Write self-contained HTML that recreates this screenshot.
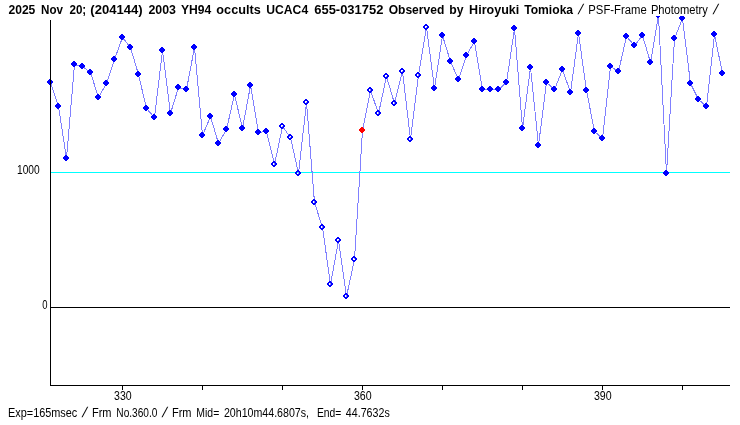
<!DOCTYPE html>
<html><head><meta charset="utf-8"><title>Light curve</title>
<style>
html,body{margin:0;padding:0;background:#fff;}
svg{display:block;}
text{font-family:"Liberation Sans","IPAGothic",sans-serif;font-size:12.5px;fill:#000;}
.b{font-weight:bold;}
.sl{font-size:14.3px;}
</style></head>
<body>
<svg width="740" height="425" viewBox="0 0 740 425">
<rect width="740" height="425" fill="#fff"/>
<defs><clipPath id="c"><rect x="40" y="16" width="700" height="370"/></clipPath></defs>
<g shape-rendering="crispEdges">
<rect x="51" y="172" width="679" height="1" fill="#00ffff"/>
<rect x="51" y="307" width="679" height="1" fill="#000"/>
<g clip-path="url(#c)">
<polyline points="50,82 58,106 66,158 74,64 82,66 90,72 98,97 106,83 114,59 122,37 130,47 138,74 146,108 154,117 162,50 170,113 178,87 186,89 194,47 202,135 210,116 218,143 226,129 234,94 242,128 250,85 258,132 266,131 274,164 282,126 290,137 298,173 306,102 314,202 322,227 330,284 338,240 346,296 354,259 362,130 370,90 378,113 386,76 394,103 402,71 410,139 418,75 426,27 434,88 442,35 450,61 458,79 466,55 474,41 482,89 490,89 498,89 506,82 514,28 522,128 530,67 538,145 546,82 554,89 562,69 570,92 578,33 586,90 594,131 602,138 610,66 618,71 626,36 634,45 642,35 650,62 658,15 666,173 674,38 682,18 690,83 698,99 706,106 714,34 722,73" fill="none" stroke="#8080ff" stroke-width="1" transform="translate(0.5,0.5)"/>
<path d="M49 79h2v1h1v1h1v2h-1v1h-1v1h-2v-1h-1v-1h-1v-2h1v-1h1z" fill="#0000ff"/><path d="M57 103h2v1h1v1h1v2h-1v1h-1v1h-2v-1h-1v-1h-1v-2h1v-1h1z" fill="#0000ff"/><path d="M65 155h2v1h1v1h1v2h-1v1h-1v1h-2v-1h-1v-1h-1v-2h1v-1h1z" fill="#0000ff"/><path d="M73 61h2v1h1v1h1v2h-1v1h-1v1h-2v-1h-1v-1h-1v-2h1v-1h1z" fill="#0000ff"/><path d="M81 63h2v1h1v1h1v2h-1v1h-1v1h-2v-1h-1v-1h-1v-2h1v-1h1z" fill="#0000ff"/><path d="M89 69h2v1h1v1h1v2h-1v1h-1v1h-2v-1h-1v-1h-1v-2h1v-1h1z" fill="#0000ff"/><path d="M97 94h2v1h1v1h1v2h-1v1h-1v1h-2v-1h-1v-1h-1v-2h1v-1h1z" fill="#0000ff"/><path d="M105 80h2v1h1v1h1v2h-1v1h-1v1h-2v-1h-1v-1h-1v-2h1v-1h1z" fill="#0000ff"/><path d="M113 56h2v1h1v1h1v2h-1v1h-1v1h-2v-1h-1v-1h-1v-2h1v-1h1z" fill="#0000ff"/><path d="M121 34h2v1h1v1h1v2h-1v1h-1v1h-2v-1h-1v-1h-1v-2h1v-1h1z" fill="#0000ff"/><path d="M129 44h2v1h1v1h1v2h-1v1h-1v1h-2v-1h-1v-1h-1v-2h1v-1h1z" fill="#0000ff"/><path d="M137 71h2v1h1v1h1v2h-1v1h-1v1h-2v-1h-1v-1h-1v-2h1v-1h1z" fill="#0000ff"/><path d="M145 105h2v1h1v1h1v2h-1v1h-1v1h-2v-1h-1v-1h-1v-2h1v-1h1z" fill="#0000ff"/><path d="M153 114h2v1h1v1h1v2h-1v1h-1v1h-2v-1h-1v-1h-1v-2h1v-1h1z" fill="#0000ff"/><path d="M161 47h2v1h1v1h1v2h-1v1h-1v1h-2v-1h-1v-1h-1v-2h1v-1h1z" fill="#0000ff"/><path d="M169 110h2v1h1v1h1v2h-1v1h-1v1h-2v-1h-1v-1h-1v-2h1v-1h1z" fill="#0000ff"/><path d="M177 84h2v1h1v1h1v2h-1v1h-1v1h-2v-1h-1v-1h-1v-2h1v-1h1z" fill="#0000ff"/><path d="M185 86h2v1h1v1h1v2h-1v1h-1v1h-2v-1h-1v-1h-1v-2h1v-1h1z" fill="#0000ff"/><path d="M193 44h2v1h1v1h1v2h-1v1h-1v1h-2v-1h-1v-1h-1v-2h1v-1h1z" fill="#0000ff"/><path d="M201 132h2v1h1v1h1v2h-1v1h-1v1h-2v-1h-1v-1h-1v-2h1v-1h1z" fill="#0000ff"/><path d="M209 113h2v1h1v1h1v2h-1v1h-1v1h-2v-1h-1v-1h-1v-2h1v-1h1z" fill="#0000ff"/><path d="M217 140h2v1h1v1h1v2h-1v1h-1v1h-2v-1h-1v-1h-1v-2h1v-1h1z" fill="#0000ff"/><path d="M225 126h2v1h1v1h1v2h-1v1h-1v1h-2v-1h-1v-1h-1v-2h1v-1h1z" fill="#0000ff"/><path d="M233 91h2v1h1v1h1v2h-1v1h-1v1h-2v-1h-1v-1h-1v-2h1v-1h1z" fill="#0000ff"/><path d="M241 125h2v1h1v1h1v2h-1v1h-1v1h-2v-1h-1v-1h-1v-2h1v-1h1z" fill="#0000ff"/><path d="M249 82h2v1h1v1h1v2h-1v1h-1v1h-2v-1h-1v-1h-1v-2h1v-1h1z" fill="#0000ff"/><path d="M257 129h2v1h1v1h1v2h-1v1h-1v1h-2v-1h-1v-1h-1v-2h1v-1h1z" fill="#0000ff"/><path d="M265 128h2v1h1v1h1v2h-1v1h-1v1h-2v-1h-1v-1h-1v-2h1v-1h1z" fill="#0000ff"/><path d="M273 161h2v1h1v1h1v2h-1v1h-1v1h-2v-1h-1v-1h-1v-2h1v-1h1zM273 163v2h2v-2z" fill="#0000ff" fill-rule="evenodd"/><path d="M281 123h2v1h1v1h1v2h-1v1h-1v1h-2v-1h-1v-1h-1v-2h1v-1h1zM281 125v2h2v-2z" fill="#0000ff" fill-rule="evenodd"/><path d="M289 134h2v1h1v1h1v2h-1v1h-1v1h-2v-1h-1v-1h-1v-2h1v-1h1zM289 136v2h2v-2z" fill="#0000ff" fill-rule="evenodd"/><path d="M297 170h2v1h1v1h1v2h-1v1h-1v1h-2v-1h-1v-1h-1v-2h1v-1h1zM297 172v2h2v-2z" fill="#0000ff" fill-rule="evenodd"/><path d="M305 99h2v1h1v1h1v2h-1v1h-1v1h-2v-1h-1v-1h-1v-2h1v-1h1zM305 101v2h2v-2z" fill="#0000ff" fill-rule="evenodd"/><path d="M313 199h2v1h1v1h1v2h-1v1h-1v1h-2v-1h-1v-1h-1v-2h1v-1h1zM313 201v2h2v-2z" fill="#0000ff" fill-rule="evenodd"/><path d="M321 224h2v1h1v1h1v2h-1v1h-1v1h-2v-1h-1v-1h-1v-2h1v-1h1zM321 226v2h2v-2z" fill="#0000ff" fill-rule="evenodd"/><path d="M329 281h2v1h1v1h1v2h-1v1h-1v1h-2v-1h-1v-1h-1v-2h1v-1h1zM329 283v2h2v-2z" fill="#0000ff" fill-rule="evenodd"/><path d="M337 237h2v1h1v1h1v2h-1v1h-1v1h-2v-1h-1v-1h-1v-2h1v-1h1zM337 239v2h2v-2z" fill="#0000ff" fill-rule="evenodd"/><path d="M345 293h2v1h1v1h1v2h-1v1h-1v1h-2v-1h-1v-1h-1v-2h1v-1h1zM345 295v2h2v-2z" fill="#0000ff" fill-rule="evenodd"/><path d="M353 256h2v1h1v1h1v2h-1v1h-1v1h-2v-1h-1v-1h-1v-2h1v-1h1zM353 258v2h2v-2z" fill="#0000ff" fill-rule="evenodd"/><path d="M361 127h2v1h1v1h1v2h-1v1h-1v1h-2v-1h-1v-1h-1v-2h1v-1h1z" fill="#ff0000"/><path d="M369 87h2v1h1v1h1v2h-1v1h-1v1h-2v-1h-1v-1h-1v-2h1v-1h1zM369 89v2h2v-2z" fill="#0000ff" fill-rule="evenodd"/><path d="M377 110h2v1h1v1h1v2h-1v1h-1v1h-2v-1h-1v-1h-1v-2h1v-1h1zM377 112v2h2v-2z" fill="#0000ff" fill-rule="evenodd"/><path d="M385 73h2v1h1v1h1v2h-1v1h-1v1h-2v-1h-1v-1h-1v-2h1v-1h1zM385 75v2h2v-2z" fill="#0000ff" fill-rule="evenodd"/><path d="M393 100h2v1h1v1h1v2h-1v1h-1v1h-2v-1h-1v-1h-1v-2h1v-1h1zM393 102v2h2v-2z" fill="#0000ff" fill-rule="evenodd"/><path d="M401 68h2v1h1v1h1v2h-1v1h-1v1h-2v-1h-1v-1h-1v-2h1v-1h1zM401 70v2h2v-2z" fill="#0000ff" fill-rule="evenodd"/><path d="M409 136h2v1h1v1h1v2h-1v1h-1v1h-2v-1h-1v-1h-1v-2h1v-1h1zM409 138v2h2v-2z" fill="#0000ff" fill-rule="evenodd"/><path d="M417 72h2v1h1v1h1v2h-1v1h-1v1h-2v-1h-1v-1h-1v-2h1v-1h1zM417 74v2h2v-2z" fill="#0000ff" fill-rule="evenodd"/><path d="M425 24h2v1h1v1h1v2h-1v1h-1v1h-2v-1h-1v-1h-1v-2h1v-1h1zM425 26v2h2v-2z" fill="#0000ff" fill-rule="evenodd"/><path d="M433 85h2v1h1v1h1v2h-1v1h-1v1h-2v-1h-1v-1h-1v-2h1v-1h1z" fill="#0000ff"/><path d="M441 32h2v1h1v1h1v2h-1v1h-1v1h-2v-1h-1v-1h-1v-2h1v-1h1z" fill="#0000ff"/><path d="M449 58h2v1h1v1h1v2h-1v1h-1v1h-2v-1h-1v-1h-1v-2h1v-1h1z" fill="#0000ff"/><path d="M457 76h2v1h1v1h1v2h-1v1h-1v1h-2v-1h-1v-1h-1v-2h1v-1h1z" fill="#0000ff"/><path d="M465 52h2v1h1v1h1v2h-1v1h-1v1h-2v-1h-1v-1h-1v-2h1v-1h1z" fill="#0000ff"/><path d="M473 38h2v1h1v1h1v2h-1v1h-1v1h-2v-1h-1v-1h-1v-2h1v-1h1z" fill="#0000ff"/><path d="M481 86h2v1h1v1h1v2h-1v1h-1v1h-2v-1h-1v-1h-1v-2h1v-1h1z" fill="#0000ff"/><path d="M489 86h2v1h1v1h1v2h-1v1h-1v1h-2v-1h-1v-1h-1v-2h1v-1h1z" fill="#0000ff"/><path d="M497 86h2v1h1v1h1v2h-1v1h-1v1h-2v-1h-1v-1h-1v-2h1v-1h1z" fill="#0000ff"/><path d="M505 79h2v1h1v1h1v2h-1v1h-1v1h-2v-1h-1v-1h-1v-2h1v-1h1z" fill="#0000ff"/><path d="M513 25h2v1h1v1h1v2h-1v1h-1v1h-2v-1h-1v-1h-1v-2h1v-1h1z" fill="#0000ff"/><path d="M521 125h2v1h1v1h1v2h-1v1h-1v1h-2v-1h-1v-1h-1v-2h1v-1h1z" fill="#0000ff"/><path d="M529 64h2v1h1v1h1v2h-1v1h-1v1h-2v-1h-1v-1h-1v-2h1v-1h1z" fill="#0000ff"/><path d="M537 142h2v1h1v1h1v2h-1v1h-1v1h-2v-1h-1v-1h-1v-2h1v-1h1z" fill="#0000ff"/><path d="M545 79h2v1h1v1h1v2h-1v1h-1v1h-2v-1h-1v-1h-1v-2h1v-1h1z" fill="#0000ff"/><path d="M553 86h2v1h1v1h1v2h-1v1h-1v1h-2v-1h-1v-1h-1v-2h1v-1h1z" fill="#0000ff"/><path d="M561 66h2v1h1v1h1v2h-1v1h-1v1h-2v-1h-1v-1h-1v-2h1v-1h1z" fill="#0000ff"/><path d="M569 89h2v1h1v1h1v2h-1v1h-1v1h-2v-1h-1v-1h-1v-2h1v-1h1z" fill="#0000ff"/><path d="M577 30h2v1h1v1h1v2h-1v1h-1v1h-2v-1h-1v-1h-1v-2h1v-1h1z" fill="#0000ff"/><path d="M585 87h2v1h1v1h1v2h-1v1h-1v1h-2v-1h-1v-1h-1v-2h1v-1h1z" fill="#0000ff"/><path d="M593 128h2v1h1v1h1v2h-1v1h-1v1h-2v-1h-1v-1h-1v-2h1v-1h1z" fill="#0000ff"/><path d="M601 135h2v1h1v1h1v2h-1v1h-1v1h-2v-1h-1v-1h-1v-2h1v-1h1z" fill="#0000ff"/><path d="M609 63h2v1h1v1h1v2h-1v1h-1v1h-2v-1h-1v-1h-1v-2h1v-1h1z" fill="#0000ff"/><path d="M617 68h2v1h1v1h1v2h-1v1h-1v1h-2v-1h-1v-1h-1v-2h1v-1h1z" fill="#0000ff"/><path d="M625 33h2v1h1v1h1v2h-1v1h-1v1h-2v-1h-1v-1h-1v-2h1v-1h1z" fill="#0000ff"/><path d="M633 42h2v1h1v1h1v2h-1v1h-1v1h-2v-1h-1v-1h-1v-2h1v-1h1z" fill="#0000ff"/><path d="M641 32h2v1h1v1h1v2h-1v1h-1v1h-2v-1h-1v-1h-1v-2h1v-1h1z" fill="#0000ff"/><path d="M649 59h2v1h1v1h1v2h-1v1h-1v1h-2v-1h-1v-1h-1v-2h1v-1h1z" fill="#0000ff"/><path d="M657 12h2v1h1v1h1v2h-1v1h-1v1h-2v-1h-1v-1h-1v-2h1v-1h1z" fill="#0000ff"/><path d="M665 170h2v1h1v1h1v2h-1v1h-1v1h-2v-1h-1v-1h-1v-2h1v-1h1z" fill="#0000ff"/><path d="M673 35h2v1h1v1h1v2h-1v1h-1v1h-2v-1h-1v-1h-1v-2h1v-1h1z" fill="#0000ff"/><path d="M681 15h2v1h1v1h1v2h-1v1h-1v1h-2v-1h-1v-1h-1v-2h1v-1h1z" fill="#0000ff"/><path d="M689 80h2v1h1v1h1v2h-1v1h-1v1h-2v-1h-1v-1h-1v-2h1v-1h1z" fill="#0000ff"/><path d="M697 96h2v1h1v1h1v2h-1v1h-1v1h-2v-1h-1v-1h-1v-2h1v-1h1z" fill="#0000ff"/><path d="M705 103h2v1h1v1h1v2h-1v1h-1v1h-2v-1h-1v-1h-1v-2h1v-1h1z" fill="#0000ff"/><path d="M713 31h2v1h1v1h1v2h-1v1h-1v1h-2v-1h-1v-1h-1v-2h1v-1h1z" fill="#0000ff"/><path d="M721 70h2v1h1v1h1v2h-1v1h-1v1h-2v-1h-1v-1h-1v-2h1v-1h1z" fill="#0000ff"/>
</g>
<rect x="50" y="20" width="1" height="366" fill="#000"/>
<rect x="50" y="385" width="680" height="1" fill="#000"/>
<rect x="122" y="385" width="1" height="5" fill="#000"/><rect x="202" y="385" width="1" height="5" fill="#000"/><rect x="282" y="385" width="1" height="5" fill="#000"/><rect x="362" y="385" width="1" height="5" fill="#000"/><rect x="442" y="385" width="1" height="5" fill="#000"/><rect x="522" y="385" width="1" height="5" fill="#000"/><rect x="602" y="385" width="1" height="5" fill="#000"/><rect x="682" y="385" width="1" height="5" fill="#000"/>
</g>
<text y="14" class="b"><tspan x="8.44" textLength="26.89" lengthAdjust="spacingAndGlyphs">2025</tspan> <tspan x="41.11" textLength="21.99" lengthAdjust="spacingAndGlyphs">Nov</tspan> <tspan x="69.48" textLength="16.77" lengthAdjust="spacingAndGlyphs">20;</tspan> <tspan x="90.35" textLength="52.3" lengthAdjust="spacingAndGlyphs">(204144)</tspan> <tspan x="148.44" textLength="27.49" lengthAdjust="spacingAndGlyphs">2003</tspan> <tspan x="180.99" textLength="30.3" lengthAdjust="spacingAndGlyphs">YH94</tspan> <tspan x="216.39" textLength="44.38" lengthAdjust="spacingAndGlyphs">occults</tspan> <tspan x="266.28" textLength="41.9" lengthAdjust="spacingAndGlyphs">UCAC4</tspan> <tspan x="314.23" textLength="69.17" lengthAdjust="spacingAndGlyphs">655-031752</tspan> <tspan x="388.65" textLength="55.61" lengthAdjust="spacingAndGlyphs">Observed</tspan> <tspan x="449.29" textLength="14.22" lengthAdjust="spacingAndGlyphs">by</tspan> <tspan x="469.1" textLength="50.18" lengthAdjust="spacingAndGlyphs">Hiroyuki</tspan> <tspan x="524.16" textLength="48.97" lengthAdjust="spacingAndGlyphs">Tomioka</tspan></text>
<text class="sl" transform="translate(577.4,14) skewX(-15)">/</text>
<text y="14"><tspan x="588.33" textLength="58.39" lengthAdjust="spacingAndGlyphs">PSF-Frame</tspan> <tspan x="650.91" textLength="56.93" lengthAdjust="spacingAndGlyphs">Photometry</tspan></text>
<text class="sl" transform="translate(712.61,14) skewX(-15)">/</text>
<text y="174"><tspan x="16.98" textLength="22.68" lengthAdjust="spacingAndGlyphs">1000</tspan></text>
<text y="309"><tspan x="42.3" textLength="5.27" lengthAdjust="spacingAndGlyphs">0</tspan></text>
<text y="400"><tspan x="114.09" textLength="17.64" lengthAdjust="spacingAndGlyphs">330</tspan></text>
<text y="400"><tspan x="353.96" textLength="17.73" lengthAdjust="spacingAndGlyphs">360</tspan></text>
<text y="400"><tspan x="593.96" textLength="17.73" lengthAdjust="spacingAndGlyphs">390</tspan></text>
<text y="417"><tspan x="8.02" textLength="69.28" lengthAdjust="spacingAndGlyphs">Exp=165msec</tspan></text>
<text class="sl" transform="translate(81.4,417) skewX(-15)">/</text>
<text y="417"><tspan x="91.92" textLength="19.58" lengthAdjust="spacingAndGlyphs">Frm</tspan> <tspan x="116.35" textLength="41.02" lengthAdjust="spacingAndGlyphs">No.360.0</tspan></text>
<text class="sl" transform="translate(161.62,417) skewX(-15)">/</text>
<text y="417"><tspan x="171.92" textLength="19.58" lengthAdjust="spacingAndGlyphs">Frm</tspan> <tspan x="196.34" textLength="22.93" lengthAdjust="spacingAndGlyphs">Mid=</tspan> <tspan x="223.92" textLength="85.1" lengthAdjust="spacingAndGlyphs">20h10m44.6807s,</tspan> <tspan x="316.92" textLength="24.43" lengthAdjust="spacingAndGlyphs">End=</tspan> <tspan x="345.86" textLength="43.85" lengthAdjust="spacingAndGlyphs">44.7632s</tspan></text>
</svg>
</body></html>
